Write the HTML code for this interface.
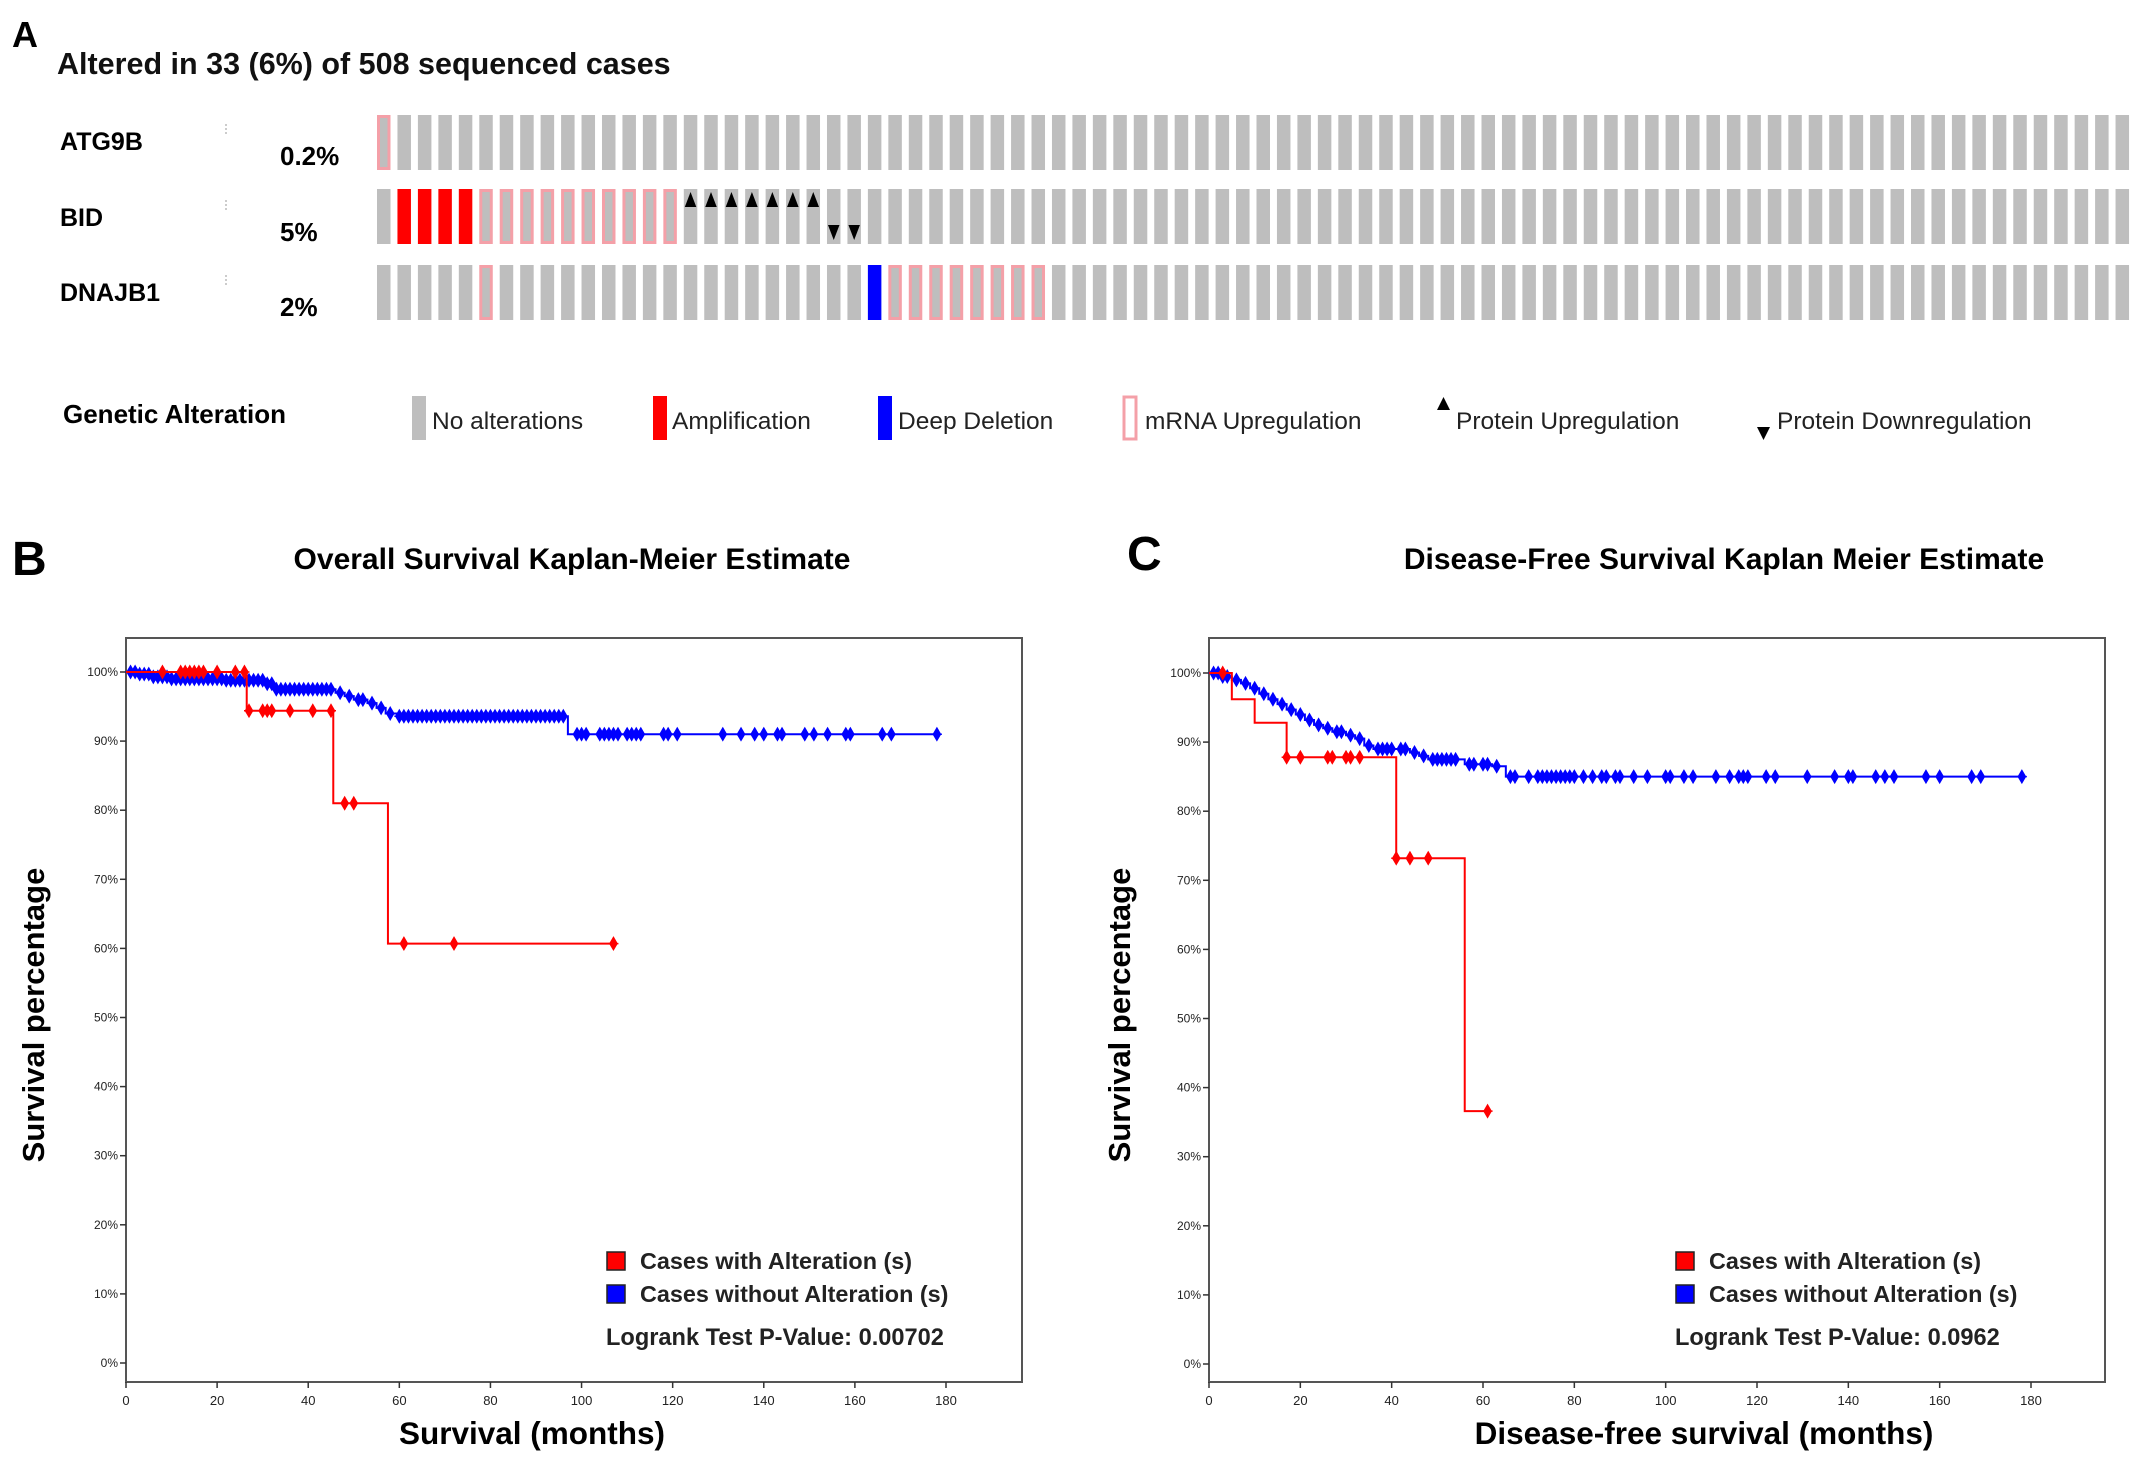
<!DOCTYPE html>
<html><head><meta charset="utf-8"><style>
html,body{margin:0;padding:0;background:#fff}
svg{display:block}
text{font-family:"Liberation Sans",Arial,sans-serif}
</style></head><body>
<svg id="fig" width="2150" height="1479" viewBox="0 0 2150 1479" xmlns="http://www.w3.org/2000/svg">
<g id="panelA">
<text x="12" y="47" font-size="36" font-weight="bold">A</text>
<text x="57" y="74" font-size="30.5" font-weight="bold" fill="#111">Altered in 33 (6%) of 508 sequenced cases</text>
<text x="60" y="150" font-size="25" font-weight="bold">ATG9B</text>
<text x="60" y="226" font-size="25" font-weight="bold">BID</text>
<text x="60" y="301" font-size="25" font-weight="bold">DNAJB1</text>
<text x="280" y="165" font-size="26" font-weight="bold">0.2%</text>
<text x="280" y="241" font-size="26" font-weight="bold">5%</text>
<text x="280" y="316" font-size="26" font-weight="bold">2%</text>
<line x1="226" y1="124" x2="226" y2="136" stroke="#999" stroke-dasharray="2,2"/>
<line x1="226" y1="200" x2="226" y2="212" stroke="#999" stroke-dasharray="2,2"/>
<line x1="226" y1="275" x2="226" y2="287" stroke="#999" stroke-dasharray="2,2"/>
<g id="onco"></g>
<g>
<text x="63" y="423" font-size="26" font-weight="bold">Genetic Alteration</text>
<rect x="412" y="396" width="14" height="44" fill="#bebebe"/>
<text x="432" y="429" font-size="24.5" fill="#222">No alterations</text>
<rect x="653" y="396" width="14" height="44" fill="#ff0000"/>
<text x="672" y="429" font-size="24.5" fill="#222">Amplification</text>
<rect x="878" y="396" width="14" height="44" fill="#0000ff"/>
<text x="898" y="429" font-size="24.5" fill="#222">Deep Deletion</text>
<rect x="1124" y="397" width="12" height="42" fill="#fff" stroke="#f4a0a8" stroke-width="3"/>
<text x="1145" y="429" font-size="24.5" fill="#222">mRNA Upregulation</text>
<polygon points="1437,410 1450,410 1443.5,397" fill="#000"/>
<text x="1456" y="429" font-size="24.5" fill="#222">Protein Upregulation</text>
<polygon points="1757,427 1770,427 1763.5,440" fill="#000"/>
<text x="1777" y="429" font-size="24.5" fill="#222">Protein Downregulation</text>
</g>
</g>
<g id="panelB">
<text x="12" y="575" font-size="48" font-weight="bold">B</text>
<text x="572" y="569" font-size="30" font-weight="bold" text-anchor="middle">Overall Survival Kaplan-Meier Estimate</text>
</g>
<g id="panelC">
<text x="1127" y="570" font-size="48" font-weight="bold">C</text>
<text x="1724" y="569" font-size="30" font-weight="bold" text-anchor="middle">Disease-Free Survival Kaplan Meier Estimate</text>
</g>
</svg>
<script>
// ---------- Oncoprint data ----------
const nCases = 86;
const atg9bMrna = [0];
const bidAmp = [1,2,3,4];
const bidMrna = [5,6,7,8,9,10,11,12,13,14];
const bidProtUp = [15,16,17,18,19,20,21];
const bidProtDown = [22,23];
const dnajb1Mrna = [5,25,26,27,28,29,30,31,32];
const dnajb1Del = [24];

// ---------- OS data ----------
const osAltSteps = [[0,100],[26.5,94.4],[45.5,81],[57.5,60.7]];
const osAltEnd = 107;
const osAltCensor = [8,12,13,14,15,16,17,20,24,26,27,30,31,32,36,41,45,48,50,61,72,107];
const osNoSteps = [[0,100],[3,99.7],[6,99.3],[10,99],[22,98.8],[31,98.3],[33,97.5],[46,97],[48,96.5],[50,96],[53,95.5],[55,94.8],[57,94],[60,93.6],[97,91]];
const osNoEnd = 178;
const osNoCensor = [1,2,3,4,5,6,7,8,9,10,11,12,13,14,15,16,17,18,19,20,21,22,23,24,25,26,27,28,29,30,31,32,33,34,35,36,37,38,39,40,41,42,43,44,45,47,49,51,52,54,56,58,60,61,62,63,64,65,66,67,68,69,70,71,72,73,74,75,76,77,78,79,80,81,82,83,84,85,86,87,88,89,90,91,92,93,94,95,96,99,100,101,104,105,106,107,108,110,111,112,113,118,119,121,131,135,138,140,143,144,149,151,154,158,159,166,168,178];

// ---------- DFS data ----------
const dfsAltSteps = [[0,100],[5,96.2],[10,92.8],[17,87.8],[41,73.2],[56,36.6]];
const dfsAltEnd = 61;
const dfsAltCensor = [3,17,20,26,27,30,31,33,41,44,48,61];
const dfsNoSteps = [[0,100],[3,99.5],[5,99],[7,98.5],[9,97.8],[11,97],[13,96.2],[15,95.5],[17,94.7],[19,94],[21,93.2],[23,92.5],[25,92],[27,91.5],[30,91],[32,90.5],[34,89.5],[36,89],[44,88.5],[46,88],[48,87.5],[56,86.8],[62,86.5],[65,85]];
const dfsNoEnd = 178;
const dfsNoCensor = [1,2,3,4,6,8,10,12,14,16,18,20,22,24,26,28,29,31,33,35,37,38,39,40,42,43,45,47,49,50,51,52,53,54,57,58,60,61,63,66,67,70,72,73,74,75,76,77,78,79,80,82,84,86,87,89,90,93,96,100,101,104,106,111,114,116,117,118,122,124,131,137,140,141,146,148,150,157,160,167,169,178];

const xTicks = [0,20,40,60,80,100,120,140,160,180];
const yTicks = [0,10,20,30,40,50,60,70,80,90,100];

const NS = "http://www.w3.org/2000/svg";
function mk(tag, attrs, parent){
  const e = document.createElementNS(NS, tag);
  for (const k in attrs) e.setAttribute(k, attrs[k]);
  parent.appendChild(e);
  return e;
}

// Oncoprint
(function(){
  const g = document.getElementById('onco');
  const x0 = 377, pitch = (2136-377)/nCases, bw = 13.5;
  const rows = [
    {name:'atg9b', y:115, mrna:atg9bMrna, amp:[], del:[], up:[], down:[]},
    {name:'bid', y:189, mrna:bidMrna, amp:bidAmp, del:[], up:bidProtUp, down:bidProtDown},
    {name:'dnajb1', y:265, mrna:dnajb1Mrna, amp:[], del:dnajb1Del, up:[], down:[]}
  ];
  const h = 55;
  rows.forEach(r=>{
    for (let i=0;i<nCases;i++){
      const x = x0 + i*pitch;
      let fill = '#bebebe';
      if (r.amp.includes(i)) fill = '#ff0000';
      else if (r.del.includes(i)) fill = '#0000ff';
      let rect;
      if (r.mrna.includes(i)) {
        rect = mk('rect',{x:x+1.5,y:r.y+1.5,width:bw-3,height:h-3,fill:'#bebebe',stroke:'#f4a0a8','stroke-width':3},g);
      } else {
        rect = mk('rect',{x:x,y:r.y,width:bw,height:h,fill:fill},g);
      }
      
      
      if (r.up.includes(i)) {
        const t = mk('polygon',{points:`${x+1},${r.y+18} ${x+bw-1},${r.y+18} ${x+bw/2},${r.y+3}`,fill:'#000'},g);
        
        
      }
      if (r.down.includes(i)) {
        const t = mk('polygon',{points:`${x+1},${r.y+36} ${x+bw-1},${r.y+36} ${x+bw/2},${r.y+51}`,fill:'#000'},g);
        
        
      }
    }
  });
})();

function kmPlot(parent, box, xTitle, xTitleX, yTitleX, legX, pText, series){
  const [L,T,R,B,x0px,x180px,y100,y0] = box;
  const X = v => x0px + (x180px-x0px)*v/180;
  const Y = v => y0 + (y100-y0)*v/100;
  const frame = mk('rect',{x:L,y:T,width:R-L,height:B-T,fill:'#fff',stroke:'#555','stroke-width':2},parent);
  
  
  yTicks.forEach(t=>{
    const l = mk('line',{x1:L-6,x2:L,y1:Y(t),y2:Y(t),stroke:'#333','stroke-width':1.5},parent);
    
    
    const tx = mk('text',{x:L-8,y:Y(t)+4,'font-size':12,'text-anchor':'end',fill:'#222','font-family':'Liberation Serif, serif'},parent);
    tx.textContent = t + '%';
    
    
  });
  xTicks.forEach(t=>{
    const l = mk('line',{x1:X(t),x2:X(t),y1:B,y2:B+6,stroke:'#333','stroke-width':1.5},parent);
    
    
    const tx = mk('text',{x:X(t),y:B+23,'font-size':13,'text-anchor':'middle',fill:'#222','font-family':'Liberation Serif, serif'},parent);
    tx.textContent = t;
    
    
  });
  const xt = mk('text',{x:xTitleX,y:B+62,'font-size':31.5,'font-weight':'bold','text-anchor':'middle'},parent);
  xt.textContent = xTitle;
  
  
  const yc = (T+B)/2+5;
  const yt = mk('text',{x:yTitleX,y:yc,'font-size':31,'font-weight':'bold','text-anchor':'middle',transform:`rotate(-90 ${yTitleX} ${yc})`},parent);
  yt.textContent = 'Survival percentage';
  
  

  series.forEach(s=>{
    let d = '';
    s.steps.forEach((p,i)=>{
      if (i===0) d += `M${X(p[0])},${Y(p[1])}`;
      else d += `H${X(p[0])}V${Y(p[1])}`;
    });
    d += `H${X(s.end)}`;
    const path = mk('path',{d:d,fill:'none',stroke:s.color,'stroke-width':2},parent);
    
    
    const survAt = t => { let v = s.steps[0][1]; s.steps.forEach(p=>{ if (p[0]<=t) v=p[1]; }); return v; };
    s.censor.forEach(t=>{
      const cx = X(t), cy = Y(survAt(t));
      const m = mk('path',{d:`M${cx},${cy-6}L${cx+3.5},${cy}L${cx},${cy+6}L${cx-3.5},${cy}Z M${cx-5},${cy}H${cx+5}`,fill:s.color,stroke:s.color,'stroke-width':1.5},parent);
      
      
    });
  });

  const lg = mk('g',{},parent);
  
  
  const items = [['#ff0000','Cases with Alteration (s)',1262],['#0000ff','Cases without Alteration (s)',1295]];
  items.forEach(it=>{
    const r = mk('rect',{x:legX,y:it[2]-10,width:18,height:18,fill:it[0],stroke:'#222','stroke-width':1.5},lg);
    
    
    const tx = mk('text',{x:legX+33,y:it[2]+7,'font-size':23.4,'font-weight':'bold',fill:'#222'},lg);
    tx.textContent = it[1];
    
    
  });
  const pv = mk('text',{x:legX-1,y:1345,'font-size':23.6,'font-weight':'bold',fill:'#222'},lg);
  pv.textContent = pText;
  
  
}

kmPlot(document.getElementById('panelB'), [126,638,1022,1382,126,946,672,1363], 'Survival (months)', 532, 44, 607,
  'Logrank Test P-Value: 0.00702',
  [{name:'without-alteration',color:'#0000ff',steps:osNoSteps,end:osNoEnd,censor:osNoCensor},
   {name:'with-alteration',color:'#ff0000',steps:osAltSteps,end:osAltEnd,censor:osAltCensor}]);

kmPlot(document.getElementById('panelC'), [1209,638,2105,1382,1209,2031,673,1364], 'Disease-free survival (months)', 1704, 1130, 1676,
  'Logrank Test P-Value: 0.0962',
  [{name:'without-alteration',color:'#0000ff',steps:dfsNoSteps,end:dfsNoEnd,censor:dfsNoCensor},
   {name:'with-alteration',color:'#ff0000',steps:dfsAltSteps,end:dfsAltEnd,censor:dfsAltCensor}]);
</script>
</body></html>
